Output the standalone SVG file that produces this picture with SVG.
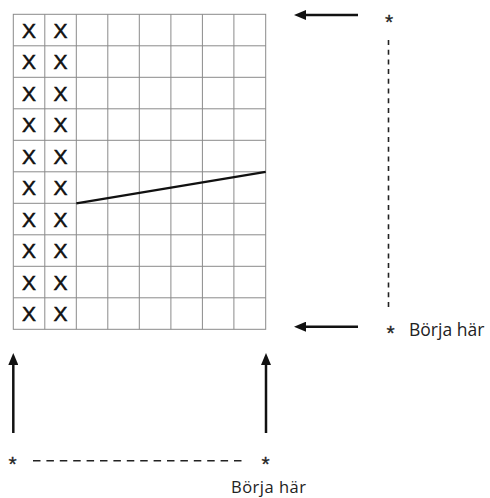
<svg xmlns="http://www.w3.org/2000/svg" width="490" height="498" viewBox="0 0 490 498">
<style>
.grid{stroke:#8a8a8a;stroke-width:1;fill:none}
.x{font-family:"Liberation Sans",Arial,sans-serif;font-size:21px;fill:#111;stroke:#111;stroke-width:0.5;text-anchor:middle}
.lbl{font-family:"Open Sans","Noto Sans",sans-serif;font-size:17.5px;fill:#222}
.lbl2{font-family:"Open Sans","Noto Sans",sans-serif;font-size:16.5px;letter-spacing:0.5px;fill:#222}
.ast{font-family:"Liberation Sans",Arial,sans-serif;font-size:21px;fill:#222;stroke:#222;stroke-width:0.3;text-anchor:middle}
.arr{stroke:#111;stroke-width:2.5;fill:none}
.dash{stroke:#222;stroke-width:1.6;fill:none}
</style>
<defs>
<marker id="ah" viewBox="0 0 12 10" refX="0" refY="5" markerWidth="12" markerHeight="10" markerUnits="userSpaceOnUse" orient="auto">
<path d="M0,0 L12,5 L0,10 Z" fill="#111"/>
</marker>
</defs>
<g id="chart">
<rect class="grid" x="13.3" y="14.3" width="252.4" height="315"/>
<path class="grid" d="M44.8,14.3V329.3M76.3,14.3V329.3M107.8,14.3V329.3M139.3,14.3V329.3M170.9,14.3V329.3M202.4,14.3V329.3M233.9,14.3V329.3
M13.3,45.8H265.7M13.3,77.3H265.7M13.3,108.8H265.7M13.3,140.3H265.7M13.3,171.8H265.7M13.3,203.3H265.7M13.3,234.8H265.7M13.3,266.3H265.7M13.3,297.8H265.7"/>
<g id="xs">
<text class="x" x="29" y="37.8">X</text><text class="x" x="60.5" y="37.8">X</text>
<text class="x" x="29" y="69.3">X</text><text class="x" x="60.5" y="69.3">X</text>
<text class="x" x="29" y="100.8">X</text><text class="x" x="60.5" y="100.8">X</text>
<text class="x" x="29" y="132.3">X</text><text class="x" x="60.5" y="132.3">X</text>
<text class="x" x="29" y="163.8">X</text><text class="x" x="60.5" y="163.8">X</text>
<text class="x" x="29" y="195.3">X</text><text class="x" x="60.5" y="195.3">X</text>
<text class="x" x="29" y="226.8">X</text><text class="x" x="60.5" y="226.8">X</text>
<text class="x" x="29" y="258.3">X</text><text class="x" x="60.5" y="258.3">X</text>
<text class="x" x="29" y="289.8">X</text><text class="x" x="60.5" y="289.8">X</text>
<text class="x" x="29" y="321.3">X</text><text class="x" x="60.5" y="321.3">X</text>
</g>
<line x1="76.3" y1="203.3" x2="265.7" y2="171.8" stroke="#111" stroke-width="2.2"/>
</g>
<g id="connectors">
<line class="arr" x1="358" y1="15" x2="306" y2="15" marker-end="url(#ah)"/>
<line class="arr" x1="358" y1="326.7" x2="306" y2="326.7" marker-end="url(#ah)"/>
<line class="arr" x1="13.3" y1="433" x2="13.3" y2="365" marker-end="url(#ah)"/>
<line class="arr" x1="266" y1="433" x2="266" y2="365" marker-end="url(#ah)"/>
<line class="dash" x1="388.5" y1="40" x2="388.5" y2="310" stroke-dasharray="5 4.7"/>
<line class="dash" x1="33" y1="460.7" x2="247" y2="460.7" stroke-dasharray="7.5 5.9"/>
</g>
<g id="labels">
<text class="ast" x="389" y="28.5">*</text>
<text class="ast" x="390.5" y="340">*</text>
<text class="lbl" x="409" y="335.5">Börja här</text>
<text class="ast" x="12.5" y="470.5">*</text>
<text class="ast" x="265.7" y="470.5">*</text>
<text class="lbl2" x="231" y="492.8">Börja här</text>
</g>
</svg>
